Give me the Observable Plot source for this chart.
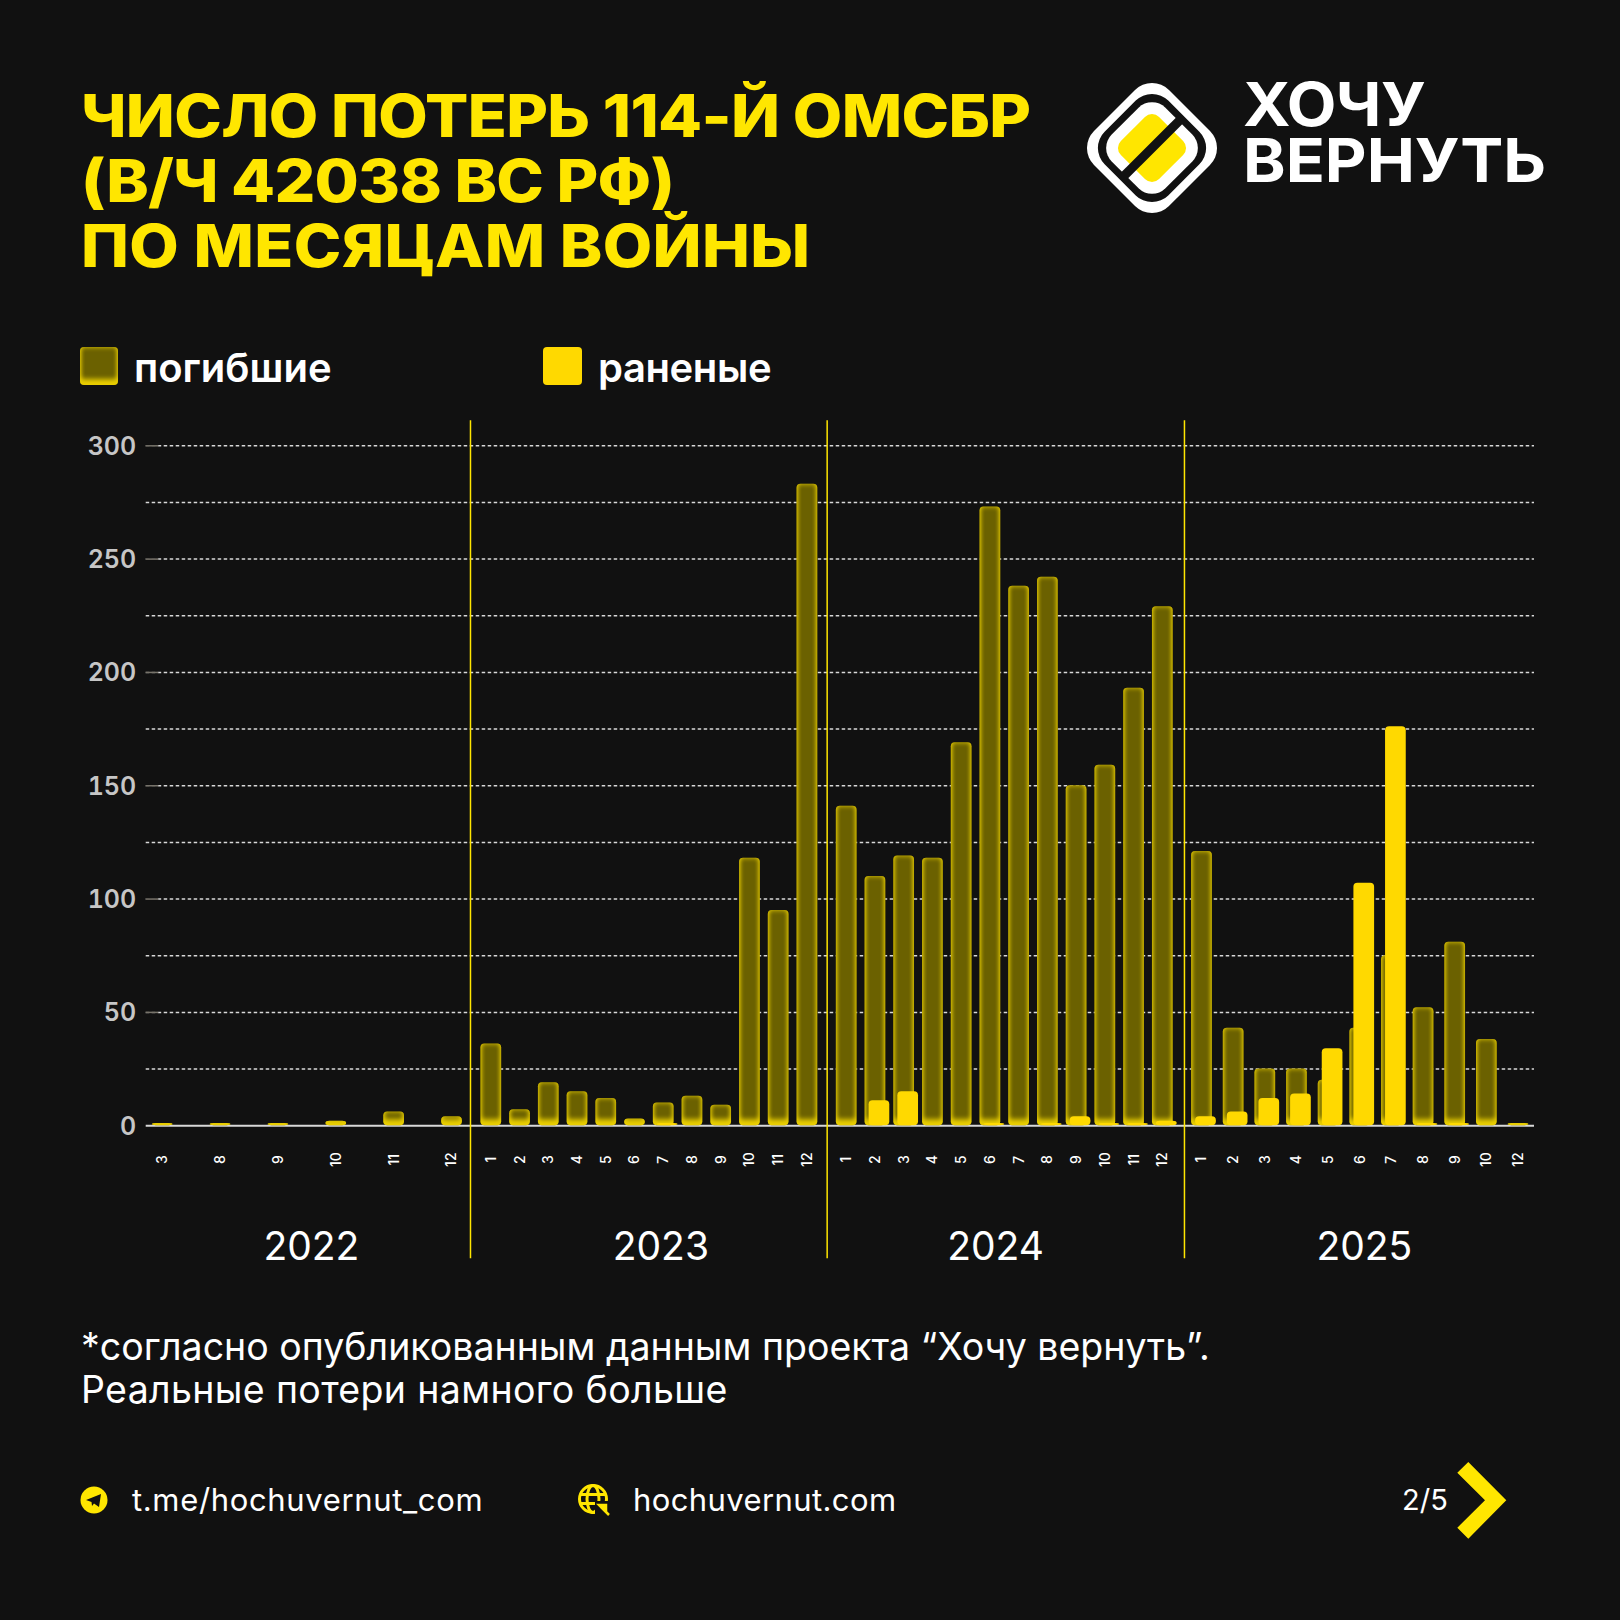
<!DOCTYPE html>
<html lang="ru">
<head>
<meta charset="utf-8">
<script src="https://cdn.jsdelivr.net/npm/d3@7"></script>
<script src="https://cdn.jsdelivr.net/npm/@observablehq/plot@0.6"></script>
<style>
html,body{margin:0;padding:0;background:#111111;}
#page{position:relative;width:1620px;height:1620px;background:#111111;overflow:hidden;font-family:Inter,"Noto Sans",sans-serif;color:#fff;}
.abs{position:absolute;white-space:nowrap;}
#title{left:81px;top:83px;font-size:59px;line-height:65px;font-weight:800;color:#FFE600;letter-spacing:-0.6px;transform:scaleX(1.086);transform-origin:left top;}
.legend{font-size:40px;font-weight:600;line-height:46px;top:345px;letter-spacing:-0.4px;}
#caption{left:81px;top:1325px;font-size:37.5px;line-height:43px;font-weight:400;}
.foot{font-size:31px;line-height:36px;top:1482px;font-weight:400;letter-spacing:.4px;}
#chart{position:absolute;left:0;top:400px;}
#logoTop{left:1243px;top:76px;font-size:60px;line-height:56px;font-weight:700;transform:scaleX(1.075);transform-origin:left top;}
</style>
</head>
<body>
<div id="page">
  <svg width="0" height="0" style="position:absolute">
    <defs>
      <filter id="glow" x="-20" y="-20" width="1700" height="1000" filterUnits="userSpaceOnUse" color-interpolation-filters="sRGB">
        <feComponentTransfer in="SourceAlpha" result="inv"><feFuncA type="table" tableValues="1 0"/></feComponentTransfer>
        <feGaussianBlur in="inv" stdDeviation="2.4" result="b1"/>
        <feOffset in="inv" dy="-6" result="off"/>
        <feGaussianBlur in="off" stdDeviation="2.4" result="b2"/>
        <feMerge result="m"><feMergeNode in="b1"/><feMergeNode in="b2"/></feMerge>
        <feFlood flood-color="#FFE100" flood-opacity="0.85"/>
        <feComposite in2="m" operator="in" result="g"/>
        <feComposite in="g" in2="SourceAlpha" operator="in" result="gi"/>
        <feMerge><feMergeNode in="SourceGraphic"/><feMergeNode in="gi"/></feMerge>
      </filter>
    </defs>
  </svg>

  <div id="title" class="abs">ЧИСЛО ПОТЕРЬ 114-Й ОМСБР<br><span style="letter-spacing:-0.7px">(В/Ч 42038 ВС РФ)</span><br><span style="letter-spacing:0.3px">ПО МЕСЯЦАМ ВОЙНЫ</span></div>

  <svg class="abs" style="left:1080px;top:76px" width="144" height="144" viewBox="-72 -72 144 144">
    <g transform="rotate(45)">
      <rect x="-53" y="-53" width="106" height="106" rx="24" fill="#fff"/>
      <rect x="-45" y="-45" width="90" height="90" rx="23" fill="#111"/>
      <rect x="-38" y="-38" width="76" height="76" rx="19" fill="#fff"/>
      <rect x="-27" y="-27" width="54" height="54" rx="10" fill="#FFE600"/>
      <rect x="-4.5" y="-40" width="9" height="80" fill="#111"/>
    </g>
  </svg>
  <div id="logoTop" class="abs"><span style="letter-spacing:-0.5px">ХОЧУ</span><br>ВЕРНУТЬ</div>

  <svg class="abs" style="left:80px;top:347px" width="38" height="38"><rect width="38" height="38" rx="4" fill="#6b6100" style="filter:url(#glow)"/></svg>
  <div class="legend abs" style="left:134px;letter-spacing:0">погибшие</div>
  <svg class="abs" style="left:543px;top:347px" width="39" height="38"><rect width="39" height="38" rx="4" fill="#FFD900"/></svg>
  <div class="legend abs" style="left:598px">раненые</div>

  <div id="chart"></div>

  <div id="caption" class="abs">*согласно опубликованным данным проекта “Хочу вернуть”.<br><span style="letter-spacing:.35px">Реальные потери намного больше</span></div>

  <svg class="abs" style="left:80px;top:1486px" width="28" height="28" viewBox="0 0 28 28">
    <circle cx="14" cy="14" r="13.5" fill="#FFE600"/>
    <path d="M6 14 L21 8 L19 21 L14 17.5 L12 20 L11.5 16 Z" fill="#111"/>
  </svg>
  <div class="foot abs" style="left:132px;letter-spacing:.65px">t.me/hochuvernut_com</div>
  <svg class="abs" style="left:578px;top:1484px" width="32" height="32" viewBox="0 0 32 32" fill="none" stroke="#FFE600" stroke-width="3">
    <circle cx="15" cy="15" r="13.5"/>
    <ellipse cx="15" cy="15" rx="6" ry="13.5"/>
    <path d="M2 10.5H28M2 19.5H28"/>
    <rect x="17" y="17" width="15" height="15" fill="#111" stroke="none"/>
    <path d="M21 21H28V28Z M23 23L31 31" fill="#FFE600" stroke-width="2.5"/>
  </svg>
  <div class="foot abs" style="left:633px">hochuvernut.com</div>
  <div class="foot abs" style="left:1402px;letter-spacing:0;font-size:29px">2/5</div>
  <svg class="abs" style="left:1457px;top:1460px" width="60" height="80" viewBox="1457 1460 60 80">
    <path d="M1468.3 1462 L1506.3 1500.3 L1468.3 1538.7 L1457.3 1527.7 L1485 1500.3 L1457.3 1472.7 Z" fill="#FFE600"/>
  </svg>
</div>

<script>
// ---- data ----
const years   = [2022, 2023, 2024, 2025];
const months2022 = [3, 8, 9, 10, 11, 12];
const months2023 = [1, 2, 3, 4, 5, 6, 7, 8, 9, 10, 11, 12];
const months2024 = [1, 2, 3, 4, 5, 6, 7, 8, 9, 10, 11, 12];
const months2025 = [1, 2, 3, 4, 5, 6, 7, 8, 9, 10, 12];

const killed2022 = [1, 1, 1, 2, 6, 4];
const killed2023 = [36, 7, 19, 15, 12, 3, 10, 13, 9, 118, 95, 283];
const killed2024 = [141, 110, 119, 118, 169, 273, 238, 242, 150, 159, 193, 229];
const killed2025 = [121, 43, 25, 25, 20, 43, 75, 52, 81, 38, 1];

const wounded2022 = [0, 0, 0, 0, 0, 0];
const wounded2023 = [0, 0, 0, 0, 0, 0, 1, 0, 0, 0, 0, 0];
const wounded2024 = [0, 11, 15, 0, 0, 1, 0, 1, 4, 1, 1, 2];
const wounded2025 = [4, 6, 12, 14, 34, 107, 176, 1, 1, 0, 0];

const yTicksMajor = [0, 50, 100, 150, 200, 250, 300];
const yTicksGrid  = [25, 50, 75, 100, 125, 150, 175, 200, 225, 250, 275, 300];

// ---- table built from the arrays ----
const monthsBy  = [months2022, months2023, months2024, months2025];
const killedBy  = [killed2022, killed2023, killed2024, killed2025];
const woundedBy = [wounded2022, wounded2023, wounded2024, wounded2025];
const rows = [];
years.forEach((year, yi) => monthsBy[yi].forEach((month, mi) => rows.push({
  i: rows.length, yi, year, month, killed: killedBy[yi][mi], wounded: woundedBy[yi][mi]
})));

// ---- x scale: one linear stretch per year, each year has its own month pitch ----
const xDomain = [0, 5, 5.2, 5.6, 6, 17, 17.5, 17.6, 18, 29, 29.5, 29.6, 30, 40];
const xRange  = [162.2, 451.5, 463.1, 479.3, 490.8, 806.9, 821.3, 834.7, 846.2, 1162.3, 1176.7, 1188.8, 1201.5, 1518];
const pitch   = [57.86, 28.74, 28.74, 31.65];
const barW = 20.7, woundedShift = 4;
const span = d => barW / 2 / pitch[d.yi];
const shift = d => woundedShift / pitch[d.yi];

const separators = [5.37, 17.54, 29.56];
const yearAt = [2.57, 11.9, 23.18, 35.13];

const yearRows = years.map((year, k) => ({year, at: yearAt[k]}));

const chart = Plot.plot({
  width: 1620,
  height: 880,
  marginLeft: 145.7,
  marginRight: 86,
  marginTop: 0,
  marginBottom: 0,
  style: {background: "transparent", fontFamily: "Inter, sans-serif", overflow: "visible", color: "#fff"},
  x: {type: "linear", domain: xDomain, range: xRange, axis: null},
  y: {type: "linear", domain: [0, 300], range: [725.2, 45.3], axis: null},
  marks: [
    Plot.ruleY(yTicksGrid, {stroke: "#d8d8d8", strokeWidth: 1.5, strokeDasharray: "3.5 2.5"}),
    Plot.ruleY(yTicksMajor.slice(1), {x1: -0.285, x2: -0.07, stroke: "#111", strokeWidth: 2}),
    Plot.ruleY(yTicksMajor.slice(1), {x1: -0.285, x2: -0.07, stroke: "#77736a", strokeWidth: 1.5}),
    Plot.ruleY([0], {stroke: "#d8d8d8", strokeWidth: 2}),
    Plot.axisY({ticks: yTicksMajor, tickSize: 0, tickPadding: 10, dy: 1, fontSize: 25, fontWeight: 600, fill: "#c6c6c6", label: null, tickFormat: d => d}),
    Plot.rect(rows.filter(d => d.killed > 0), {
      x1: d => d.i - span(d), x2: d => d.i + span(d), y1: 0, y2: "killed",
      fill: "#6b6100", rx: 4, imageFilter: "url(#glow)"
    }),
    Plot.rect(rows.filter(d => d.wounded > 0), {
      x1: d => d.i - span(d) + shift(d), x2: d => d.i + span(d) + shift(d), y1: 0, y2: "wounded",
      fill: "#FFD900", rx: 4
    }),
    Plot.ruleX(separators, {y1: -58.7, y2: 311, stroke: "#FFE600", strokeWidth: 1.5}),
    Plot.text(rows, {x: "i", y: -15, text: d => String(d.month), rotate: -90, fill: "#fff", fontSize: 14, fontWeight: 500}),
    Plot.text(yearRows, {x: "at", y: -53.7, text: d => String(d.year), fill: "#fff", fontSize: 39, fontWeight: 400})
  ]
});
document.getElementById("chart").append(chart);
</script>
</body>
</html>
